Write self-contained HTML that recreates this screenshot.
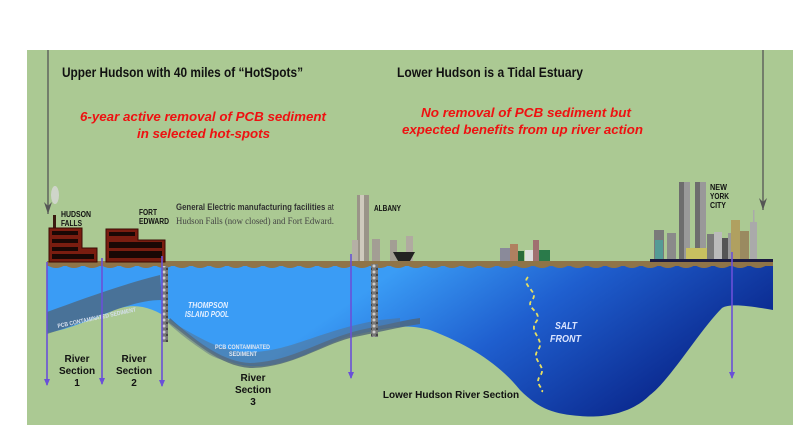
<!DOCTYPE html>
<html><head><meta charset="utf-8"><style>
html,body{margin:0;padding:0;background:#fff;width:800px;height:425px;overflow:hidden}
svg{display:block}
.t{font-family:"Liberation Sans",sans-serif;font-weight:bold}
</style></head><body>
<svg width="800" height="425" viewBox="0 0 800 425" xmlns="http://www.w3.org/2000/svg">
<defs>
<linearGradient id="w" x1="0" y1="0" x2="1" y2="0.3">
<stop offset="0" stop-color="#3a9cf5"/><stop offset="0.45" stop-color="#3a9cf5"/><stop offset="0.7" stop-color="#1f5fcf"/><stop offset="1" stop-color="#0c2c92"/>
</linearGradient>
<marker id="pa" markerWidth="7" markerHeight="6" refX="6" refY="3" orient="auto" markerUnits="userSpaceOnUse"><path d="M0,0 L7,3 L0,6 Z" fill="#6a50d8"/></marker>
<marker id="ga" markerWidth="8" markerHeight="12" refX="4" refY="12" markerUnits="userSpaceOnUse"><path d="M0,0 L4,12 L8,0 L4,4 Z" fill="#555"/></marker>
<pattern id="rock" width="6" height="6" patternUnits="userSpaceOnUse"><rect width="6" height="6" fill="#777"/><circle cx="2" cy="2" r="1.5" fill="#ccc"/><circle cx="5" cy="5" r="1.2" fill="#444"/></pattern>
</defs>
<rect x="27" y="50" width="766" height="375" fill="#abc993"/>
<path d="M47,265 L773,265 L773,310 C750,306 730,303 722,308 C700,330 670,380 650,395 C630,415 600,418 580,416 C555,414 540,410 520,390 C500,365 470,345 430,330 C400,322 380,330 350,336 C320,345 290,368 250,366 C220,364 195,340 170,320 C150,305 130,302 110,312 C85,322 65,330 47,333 Z" fill="url(#w)"/>
<path d="M47,312 C80,300 120,285 160,275 L162,300 C130,300 100,318 47,334 Z" fill="#4f6478" opacity="0.75"/>
<path d="M170,318 C200,345 225,362 250,363 C290,362 320,340 360,330 C390,324 405,320 420,318 L420,324 C395,328 380,332 350,338 C320,346 290,368 250,368 C220,366 195,342 168,322 Z" fill="#4f6478" opacity="0.8"/>
<path d="M165,318 C200,338 220,352 250,352 C290,352 320,330 380,320 L400,318 L400,326 C360,330 320,348 290,360 C270,368 230,366 210,355 C190,342 175,330 165,320Z" fill="#5a6f85" opacity="0.5"/>
<text x="58" y="328" font-family="Liberation Sans,sans-serif" font-size="6" font-weight="bold" fill="#d6e0ee" textLength="80" lengthAdjust="spacingAndGlyphs" transform="rotate(-12 58 328)">PCB CONTAMINATED SEDIMENT</text>
<text x="215" y="349" font-family="Liberation Sans,sans-serif" font-size="6" font-weight="bold" fill="#e0e6f0" textLength="55" lengthAdjust="spacingAndGlyphs">PCB CONTAMINATED</text>
<text x="229" y="356" font-family="Liberation Sans,sans-serif" font-size="6" font-weight="bold" fill="#e0e6f0" textLength="28" lengthAdjust="spacingAndGlyphs">SEDIMENT</text>
<text x="188" y="308" font-family="Liberation Sans,sans-serif" font-size="8.5" font-style="italic" font-weight="bold" fill="#e6f0ff" textLength="40" lengthAdjust="spacingAndGlyphs">THOMPSON</text>
<text x="185" y="317" font-family="Liberation Sans,sans-serif" font-size="8.5" font-style="italic" font-weight="bold" fill="#e6f0ff" textLength="44" lengthAdjust="spacingAndGlyphs">ISLAND POOL</text>
<text x="555" y="329" font-family="Liberation Sans,sans-serif" font-size="10.5" font-style="italic" font-weight="bold" fill="#dce6ff" textLength="22" lengthAdjust="spacingAndGlyphs">SALT</text>
<text x="550" y="342" font-family="Liberation Sans,sans-serif" font-size="10.5" font-style="italic" font-weight="bold" fill="#dce6ff" textLength="31" lengthAdjust="spacingAndGlyphs">FRONT</text>
<path d="M528,277 C520,285 540,292 532,300 C524,308 544,312 536,322 C528,332 546,340 538,350 C530,360 548,366 540,376 C534,384 544,388 542,392" fill="none" stroke="#e8e060" stroke-width="1.8" stroke-dasharray="4,3"/>
<rect x="47" y="261" width="726" height="5" fill="#8f7448"/>
<path d="M47,265 q9,6 18,0 q9,6 18,0 q9,6 18,0 q9,6 18,0 q9,6 18,0 q9,6 18,0 q9,6 18,0 q9,6 18,0 q9,6 18,0 q9,6 18,0 q9,6 18,0 q9,6 18,0 q9,6 18,0 q9,6 18,0 q9,6 18,0 q9,6 18,0 q9,6 18,0 q9,6 18,0 q9,6 18,0 q9,6 18,0 q9,6 18,0 q9,6 18,0 q9,6 18,0 q9,6 18,0 q9,6 18,0 q9,6 18,0 q9,6 18,0 q9,6 18,0 q9,6 18,0 q9,6 18,0 q9,6 18,0 q9,6 18,0 q9,6 18,0 q9,6 18,0 q9,6 18,0 q9,6 18,0 q9,6 18,0 q9,6 18,0 q9,6 18,0 q9,6 18,0 L773,265 L773,264 L47,264Z" fill="#8f7448"/>
<rect x="162" y="266" width="6" height="76" fill="url(#rock)"/>
<rect x="371" y="264" width="7" height="73" fill="url(#rock)"/>
<rect x="53" y="215" width="3" height="14" fill="#3a1a10"/>
<ellipse cx="55" cy="195" rx="4" ry="9" fill="#d8d8d8" opacity="0.8"/>
<path d="M49,228 L82,228 L82,248 L97,248 L97,262 L49,262Z" fill="#7a1d10" stroke="#3a0a05"/>
<path d="M106,229 L138,229 L138,240 L165,240 L165,262 L106,262Z" fill="#7a1d10" stroke="#3a0a05"/>
<g fill="#1a0805">
<rect x="52" y="231" width="26" height="4"/><rect x="52" y="239" width="26" height="4"/><rect x="52" y="247" width="26" height="4"/><rect x="52" y="254" width="42" height="5"/>
<rect x="109" y="232" width="26" height="4"/><rect x="109" y="242" width="53" height="6"/><rect x="109" y="251" width="53" height="7"/>
</g>
<g>
<rect x="357" y="195" width="12" height="66" fill="#9a9488"/><rect x="360" y="195" width="4" height="66" fill="#cfcabd"/>
<rect x="352" y="240" width="6" height="21" fill="#b5b0a5"/>
<rect x="372" y="239" width="8" height="22" fill="#a39e94"/>
<rect x="390" y="240" width="7" height="21" fill="#a39e94"/>
<rect x="406" y="236" width="7" height="25" fill="#b0aaa0"/>
<path d="M393,252 L415,252 L410,261 L398,261Z" fill="#222"/>
</g>
<g>
<rect x="500" y="248" width="10" height="13" fill="#8a8a9a"/><rect x="510" y="244" width="8" height="17" fill="#b08060"/><rect x="518" y="251" width="6" height="10" fill="#2a6a3a"/><rect x="525" y="250" width="8" height="11" fill="#ddd"/><rect x="533" y="240" width="6" height="21" fill="#a07070"/><rect x="539" y="250" width="11" height="11" fill="#2a7a4a"/>
</g>
<g>
<rect x="654" y="230" width="10" height="31" fill="#7a7a7a"/><rect x="655" y="240" width="8" height="20" fill="#3ab0a8" opacity="0.6"/>
<rect x="667" y="233" width="9" height="28" fill="#8a8a8a"/>
<rect x="679" y="182" width="11" height="79" fill="#6d6d6d"/><rect x="684" y="182" width="6" height="79" fill="#999"/>
<rect x="695" y="182" width="11" height="79" fill="#6d6d6d"/><rect x="700" y="182" width="6" height="79" fill="#999"/>
<rect x="686" y="248" width="26" height="13" fill="#c8c060"/>
<rect x="707" y="234" width="7" height="27" fill="#7a7a7a"/><rect x="714" y="232" width="8" height="29" fill="#bbb"/><rect x="722" y="238" width="6" height="23" fill="#555"/>
<rect x="728" y="233" width="9" height="28" fill="#999"/><rect x="731" y="220" width="9" height="41" fill="#b0a060"/>
<rect x="740" y="231" width="9" height="30" fill="#9a8a60"/><rect x="750" y="222" width="7" height="39" fill="#aaa"/><rect x="753" y="210" width="1.5" height="12" fill="#aaa"/>
<rect x="650" y="259" width="123" height="3" fill="#1a1a40"/>
</g>
<g font-family="Liberation Sans,sans-serif" font-size="8" font-weight="bold" fill="#111" lengthAdjust="spacingAndGlyphs">
<text x="61" y="217" textLength="30" lengthAdjust="spacingAndGlyphs">HUDSON</text><text x="61" y="226" textLength="21" lengthAdjust="spacingAndGlyphs">FALLS</text>
<text x="139" y="215" textLength="18" lengthAdjust="spacingAndGlyphs">FORT</text><text x="139" y="224" textLength="30" lengthAdjust="spacingAndGlyphs">EDWARD</text>
<text x="374" y="211" textLength="27" lengthAdjust="spacingAndGlyphs">ALBANY</text>
<text x="710" y="190" textLength="17" lengthAdjust="spacingAndGlyphs">NEW</text><text x="710" y="199" textLength="19" lengthAdjust="spacingAndGlyphs">YORK</text><text x="710" y="208" textLength="16" lengthAdjust="spacingAndGlyphs">CITY</text>
</g>
<text x="176" y="210" font-family="Liberation Sans,sans-serif" font-size="9" fill="#333" textLength="158" lengthAdjust="spacingAndGlyphs"><tspan font-weight="bold">General Electric manufacturing facilities</tspan> at</text>
<text x="176" y="224" font-family="Liberation Serif,serif" font-size="9.5" fill="#444" textLength="158" lengthAdjust="spacingAndGlyphs">Hudson Falls (now closed) and Fort Edward.</text>
<g font-family="Liberation Sans,sans-serif" font-size="10" font-weight="bold" fill="#111" text-anchor="middle">
<text x="77" y="362">River</text><text x="77" y="374">Section</text><text x="77" y="386">1</text>
<text x="134" y="362">River</text><text x="134" y="374">Section</text><text x="134" y="386">2</text>
<text x="253" y="381">River</text><text x="253" y="393">Section</text><text x="253" y="405">3</text>
<text x="451" y="398">Lower Hudson River Section</text>
</g>
<g stroke="#6a50d8" stroke-width="1.6" marker-end="url(#pa)">
<line x1="47" y1="262" x2="47" y2="385"/><line x1="102" y1="258" x2="102" y2="384"/><line x1="162" y1="256" x2="162" y2="386"/><line x1="351" y1="254" x2="351" y2="378"/><line x1="732" y1="252" x2="732" y2="378"/>
</g>
<line x1="48" y1="50" x2="48" y2="214" stroke="#555" stroke-width="1.3" marker-end="url(#ga)"/>
<line x1="763" y1="50" x2="763" y2="210" stroke="#555" stroke-width="1.3" marker-end="url(#ga)"/>
<text class="t" x="62" y="77" font-size="14" fill="#111" textLength="241" lengthAdjust="spacingAndGlyphs">Upper Hudson with 40 miles of  “HotSpots”</text>
<text class="t" x="397" y="77" font-size="14" fill="#111" textLength="186" lengthAdjust="spacingAndGlyphs">Lower Hudson is a Tidal Estuary</text>
<g font-family="Liberation Sans,sans-serif" font-size="13" font-style="italic" font-weight="bold" fill="#ee1111">
<text x="80" y="121" textLength="246" lengthAdjust="spacingAndGlyphs">6-year active removal of PCB sediment</text>
<text x="137" y="138" textLength="133" lengthAdjust="spacingAndGlyphs">in selected hot-spots</text>
<text x="421" y="117" textLength="210" lengthAdjust="spacingAndGlyphs">No removal of PCB sediment but</text>
<text x="402" y="134" textLength="241" lengthAdjust="spacingAndGlyphs">expected benefits from up river action</text>
</g>
</svg>
</body></html>
